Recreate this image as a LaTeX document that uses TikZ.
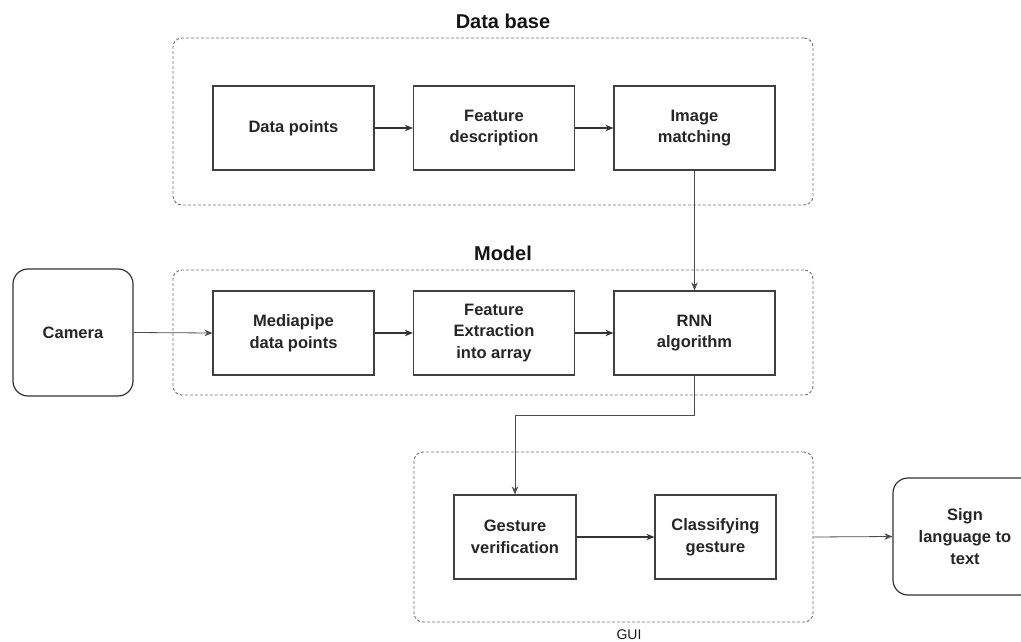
\documentclass[tikz,border=0pt]{standalone}
\usepackage{fontspec}
\setmainfont{Liberation Sans}
\usetikzlibrary{arrows.meta}
\begin{document}
\begin{tikzpicture}[x=1pt,y=-1pt,
  box/.style={draw=black!75, line width=1.2pt, fill=white, inner sep=0pt, align=center,
    minimum height=84pt, font=\fontsize{16.5}{21.7}\selectfont\bfseries, text=black!85},
  group/.style={draw=black!55, line width=0.9pt, dash pattern=on 3pt off 2pt,
    rounded corners=9pt, inner sep=0pt},
  terminal/.style={draw=black!80, line width=1.2pt, rounded corners=15pt, inner sep=0pt,
    align=center, font=\fontsize{16.5}{21.7}\selectfont\bfseries, text=black!85},
  grouptitle/.style={font=\fontsize{20}{24}\selectfont\bfseries, text=black!92},
  flow/.style={draw=black!80, line width=1.1pt, -{Stealth[length=8pt,width=6.5pt]}},
  link/.style={draw=black!70, line width=0.8pt, -{Stealth[length=8pt,width=6.5pt]}}
]
\useasboundingbox (0,0) rectangle (1021,642);
\clip (0,0) rectangle (1021,642);

% group frames
\node[group, minimum width=640pt, minimum height=167pt] (dbgroup) at (493,121.5) {};
\node[group, minimum width=640pt, minimum height=125pt] (modelgroup) at (493,332.5) {};
\node[group, minimum width=399pt, minimum height=170pt] (guigroup) at (613.5,537) {};

% group titles
\node[grouptitle] (dbtitle) at (503,21) {Data base};
\node[grouptitle] (modeltitle) at (503,253) {Model};
\node[font=\fontsize{14}{16}\selectfont, text=black!90] (guititle) at (629,635) {GUI};

% data base row
\node[box, minimum width=161pt] (dp) at (293.5,128) {Data points};
\node[box, minimum width=161pt] (fd) at (494,128) {Feature\\description};
\node[box, minimum width=161pt] (im) at (694.5,128) {Image\\matching};

% model row
\node[box, minimum width=161pt] (mp) at (293.5,333) {Mediapipe\\data points};
\node[box, minimum width=161pt] (fe) at (494,333) {Feature\\Extraction\\into array};
\node[box, minimum width=161pt] (rnn) at (694.5,333) {RNN\\algorithm};

% GUI row
\node[box, minimum width=122pt] (gv) at (515,537) {Gesture\\verification};
\node[box, minimum width=121pt] (cg) at (715.5,537) {Classifying\\gesture};

% input and output
\node[terminal, minimum width=120pt, minimum height=127pt] (cam) at (73,332.5) {Camera};
\node[terminal, minimum width=144pt, minimum height=117pt] (sign) at (965,536.5) {Sign\\language to\\text};

% connectors
\draw[flow] (dp) -- (fd);
\draw[flow] (fd) -- (im);
\draw[flow] (mp) -- (fe);
\draw[flow] (fe) -- (rnn);
\draw[flow] (gv) -- (cg);
\draw[link] (cam.east) -- (mp.west);
\draw[link] (im.south) -- (rnn.north);
\draw[link] (rnn.south) -- ++(0,40) -| (gv.north);
\draw[link] (guigroup.east) -- (sign.west);
\end{tikzpicture}
\end{document}
